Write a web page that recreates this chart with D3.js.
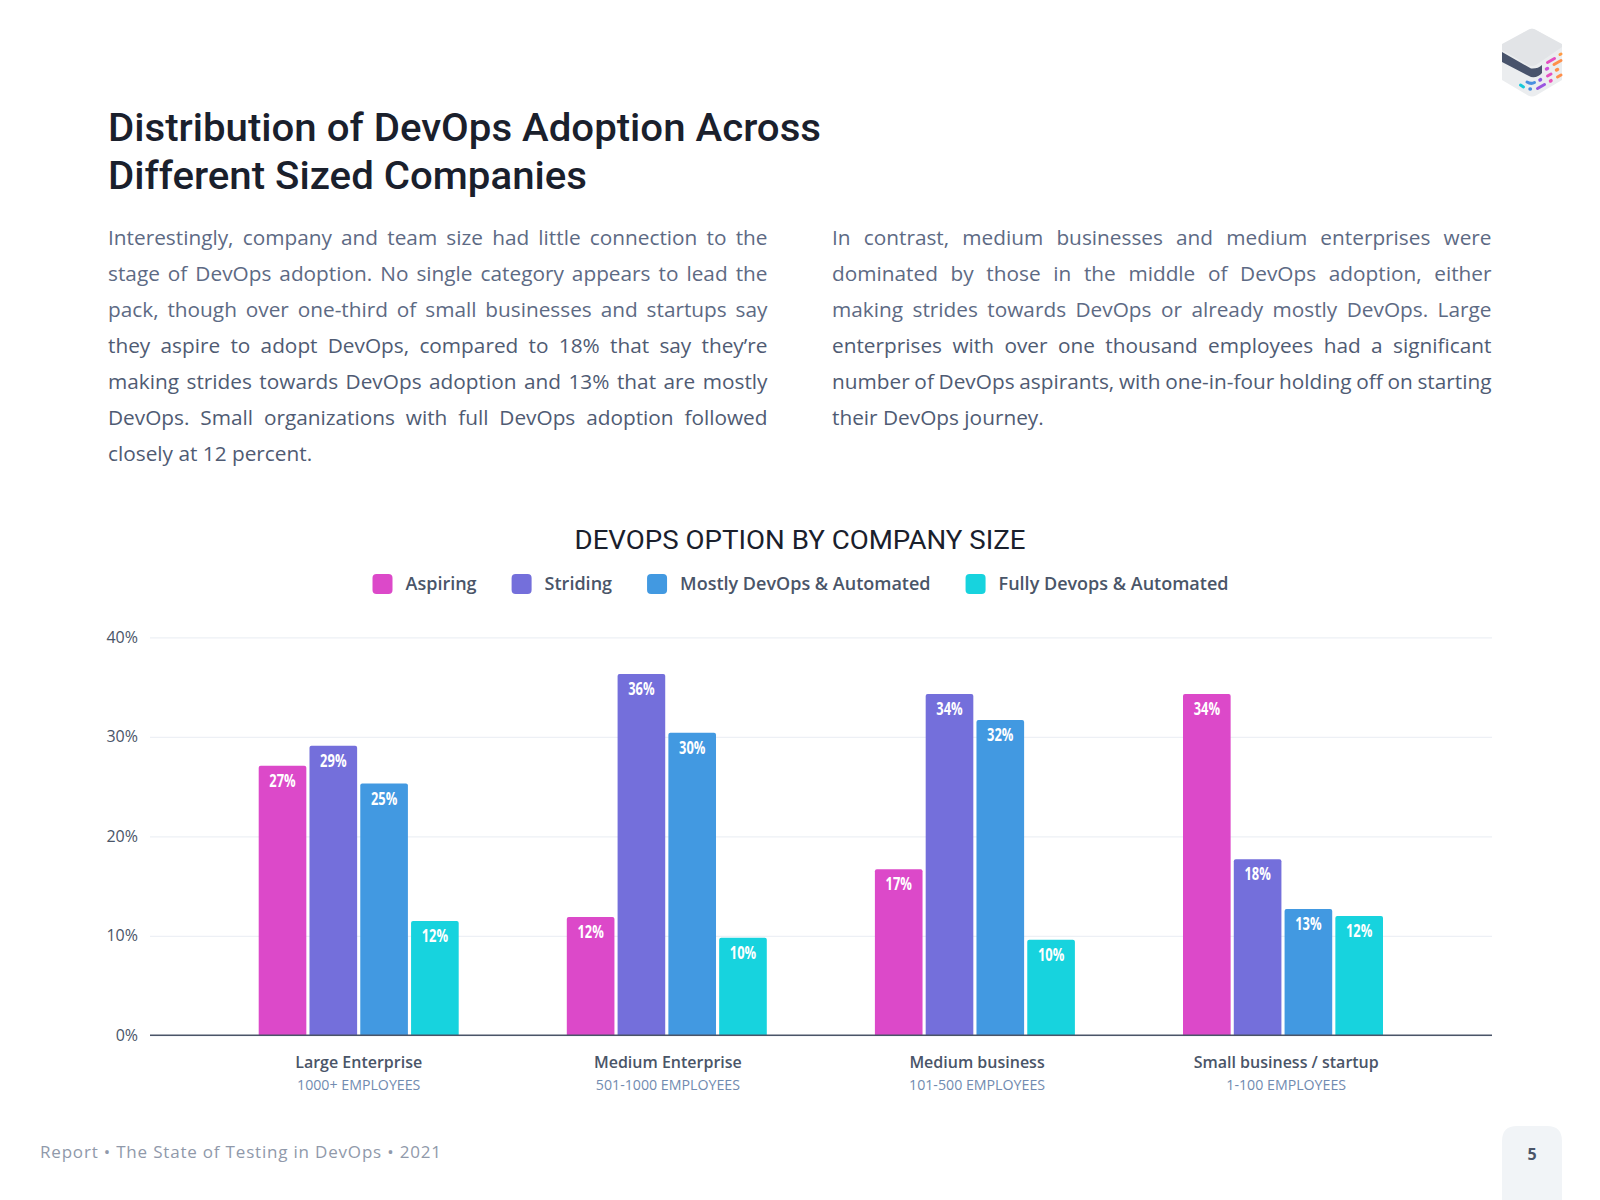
<!DOCTYPE html>
<html>
<head>
<meta charset="utf-8">
<script src="https://cdnjs.cloudflare.com/ajax/libs/d3/7.8.5/d3.min.js"></script>
<style>
  html, body { margin: 0; background: #fff; }
  svg { display: block; }
  text { font-family: "Open Sans", sans-serif; }
</style>
</head>
<body>
<svg id="page" width="1600" height="1200"></svg>
<script>
// chart data
const categories = ["Large Enterprise", "Medium Enterprise", "Medium business", "Small business / startup"];
const subLabels = ["1000+ EMPLOYEES", "501-1000 EMPLOYEES", "101-500 EMPLOYEES", "1-100 EMPLOYEES"];
const seriesNames = ["Aspiring", "Striding", "Mostly DevOps & Automated", "Fully Devops & Automated"];
const seriesColors = ["#dc49c9", "#746fdb", "#4299e1", "#17d3de"];
const aspiring = [27.1, 11.9, 16.7, 34.3];
const striding = [29.1, 36.3, 34.3, 17.7];
const mostly = [25.3, 30.4, 31.7, 12.7];
const fully = [11.5, 9.8, 9.6, 12.0];
const yTicks = [0, 10, 20, 30, 40];

const titleLines = ["Distribution of DevOps Adoption Across", "Different Sized Companies"];
const leftText = [
  "Interestingly, company and team size had little connection to the",
  "stage of DevOps adoption. No single category appears to lead the",
  "pack, though over one-third of small businesses and startups say",
  "they aspire to adopt DevOps, compared to 18% that say they’re",
  "making strides towards DevOps adoption and 13% that are mostly",
  "DevOps. Small organizations with full DevOps adoption followed",
  "closely at 12 percent."
];
const rightText = [
  "In contrast, medium businesses and medium enterprises were",
  "dominated by those in the middle of DevOps adoption, either",
  "making strides towards DevOps or already mostly DevOps. Large",
  "enterprises with over one thousand employees had a significant",
  "number of DevOps aspirants, with one-in-four holding off on starting",
  "their DevOps journey."
];

const svg = d3.select("#page");
const INK = "#4a5568";

// heading
svg.selectAll("text.title").data(titleLines).enter().append("text")
  .attr("class", "title")
  .attr("x", 108)
  .attr("y", (d, i) => 141 + i * 48)
  .attr("textLength", (d, i) => i == 0 ? 713 : 479)
  .attr("lengthAdjust", "spacingAndGlyphs")
  .style("font-family", "Roboto")
  .style("font-weight", 500)
  .style("font-size", "38px")
  .attr("fill", "#1a202c")
  .text(d => d);

// justified paragraphs, word spacing worked out per line
function paragraph(lines, x, width) {
  lines.forEach((line, i) => {
    let t = svg.append("text")
      .attr("x", x)
      .attr("y", 245 + i * 36)
      .attr("fill", i > 2 ? "#4f5b73" : "#5d6a84")
      .style("font-size", "20.8px")
      .text(line);
    if (i < lines.length - 1) {
      let gaps = line.split(" ").length - 1;
      let extra = (width - t.node().getComputedTextLength()) / gaps;
      t.style("word-spacing", extra + "px");
    }
  });
}
paragraph(leftText, 108, 659.5);
paragraph(rightText, 832, 659.5);

// chart title
svg.append("text")
  .attr("x", 800)
  .attr("y", 549)
  .attr("text-anchor", "middle")
  .attr("textLength", 451)
  .attr("lengthAdjust", "spacingAndGlyphs")
  .style("font-family", "Roboto")
  .style("font-size", "26px")
  .attr("fill", "#1a202c")
  .text("DEVOPS OPTION BY COMPANY SIZE");

// legend, laid out from the measured label widths
let legend = svg.append("g");
let legendX = 0;
seriesNames.forEach((name, i) => {
  legend.append("rect")
    .attr("x", legendX).attr("y", 574)
    .attr("width", 20).attr("height", 20).attr("rx", 4)
    .attr("fill", seriesColors[i]);
  let t = legend.append("text")
    .attr("x", legendX + 33).attr("y", 590)
    .attr("fill", INK)
    .style("font-size", "18px").style("font-weight", 600)
    .text(name);
  legendX += 33 + t.node().getComputedTextLength() + 35;
});
legend.attr("transform", `translate(${800.5 - (legendX - 35) / 2},0)`);

// scales
const y = d3.scaleLinear().domain([0, 40]).range([1035.3, 637.3]);
const x = d3.scalePoint().domain(categories).range([358.7, 1283]);
const xLabel = d3.scalePoint().domain(categories).range([358.2, 1285.7]);
const xInner = d3.scaleBand().domain(seriesNames).range([-100, 100]).paddingInner(0.062);

// axes
svg.append("g")
  .attr("class", "y-axis")
  .attr("transform", "translate(150,0)")
  .call(d3.axisLeft(y).tickValues(yTicks).tickFormat(d => d + "%").tickSize(-1342).tickPadding(12))
  .call(g => g.select(".domain").remove())
  .call(g => g.selectAll("line").attr("stroke", "#edf0f5").attr("stroke-width", 1.3))
  .call(g => g.selectAll("text").attr("fill", INK).style("font-size", "16px").style("font-family", "Open Sans"));

// bars
const series = [aspiring, striding, mostly, fully];
const r = 2;
series.forEach((values, s) => {
  let g = svg.append("g").attr("fill", seriesColors[s]);
  g.selectAll("path").data(values).enter().append("path")
    .attr("d", (d, i) => {
      let left = x(categories[i]) + xInner(seriesNames[s]);
      let w = xInner.bandwidth();
      return `M${left},${y(0)}V${y(d) + r}Q${left},${y(d)} ${left + r},${y(d)}` +
        `H${left + w - r}Q${left + w},${y(d)} ${left + w},${y(d) + r}V${y(0)}Z`;
    });
  g.selectAll("text").data(values).enter().append("text")
    .attr("text-anchor", "middle")
    .attr("transform", (d, i) => {
      let cx = x(categories[i]) + xInner(seriesNames[s]) + xInner.bandwidth() / 2;
      return `translate(${cx},${y(d) + 21}) scale(0.76,1)`;
    })
    .attr("fill", "#fff")
    .style("font-size", "17px").style("font-weight", 700)
    .text(d => Math.round(d) + "%");
});

// x axis goes over the bars
svg.append("g")
  .attr("class", "x-axis")
  .attr("transform", `translate(0,${y(0)})`)
  .call(d3.axisBottom(xLabel).tickSize(0).tickPadding(0))
  .call(g => g.select(".domain").attr("d", "M150,0H1492").attr("stroke", "#4a5568").attr("stroke-width", 1.5))
  .call(g => g.selectAll("text").remove())
  .call(g => g.selectAll(".tick").append("text")
    .attr("y", 33).attr("text-anchor", "middle")
    .attr("fill", INK).style("font-size", "16px").style("font-weight", 600)
    .text(d => d))
  .call(g => g.selectAll(".tick").append("text")
    .attr("y", 55).attr("text-anchor", "middle")
    .attr("fill", "#718bb0").style("font-size", "14.2px")
    .text((d, i) => subLabels[i]));

// footer
svg.append("text")
  .attr("x", 40).attr("y", 1158)
  .attr("fill", "#9099aa")
  .style("font-size", "17px")
  .attr("textLength", 401)
  .text("Report • The State of Testing in DevOps • 2021");
svg.append("path")
  .attr("d", "M1502,1200V1141Q1502,1126 1517,1126H1547Q1562,1126 1562,1141V1200Z")
  .attr("fill", "#f1f4f7");
svg.append("text")
  .attr("x", 1532).attr("y", 1160)
  .attr("text-anchor", "middle")
  .attr("fill", INK)
  .style("font-size", "16px").style("font-weight", 700)
  .text("5");

// logo, a small isometric block
let logo = svg.append("g");
logo.append("path").attr("d", "M1502,45L1528,30Q1532,27.5 1536,30L1562,45V80L1536,95.5Q1532,97.5 1528,95.5L1502,80Z").attr("fill", "#ebedef");
logo.append("path").attr("d", "M1502,44L1528,30Q1532,27.5 1536,30L1562,44V47L1536,65Q1532,67 1528,65L1502,50Z").attr("fill", "#e2e4e7");
logo.append("path").attr("d", "M1502,52L1531,68.5Q1538,69 1542,65V73Q1538,78 1531,77L1502,62Z").attr("fill", "#48536b");
const dashes = [
  ["M1547.5,62.5L1554.5,58.5", "#e44fc0", 3], ["M1554,64.5L1561,60.5", "#ff8f4a", 3], ["M1560,54.5L1561,54", "#ff9a45", 3],
  ["M1546.5,69L1547.5,68.5", "#d04fd8", 3.5], ["M1556.5,70L1557.5,69.5", "#ff8f4a", 3.5], ["M1547.5,76L1551,74", "#e44fc0", 3],
  ["M1557.5,77L1561,75", "#ff8f4a", 3], ["M1550.5,81L1551,80.7", "#ea4fb8", 3.5], ["M1540,80L1540.5,79.7", "#8a5be0", 3.5],
  ["M1527,82Q1531,84.5 1534.5,82.5", "#4a8fe0", 3], ["M1520.5,85L1523.5,87", "#17c9da", 3], ["M1530,89L1530.4,89", "#4a8fe0", 3.5],
  ["M1537.5,88.5L1544.5,84.5", "#9a55e0", 3]
];
logo.selectAll("path.dash").data(dashes).enter().append("path")
  .attr("class", "dash")
  .attr("d", d => d[0])
  .attr("stroke", d => d[1])
  .attr("stroke-width", d => d[2])
  .attr("stroke-linecap", "round")
  .attr("fill", "none");
</script>
</body>
</html>
